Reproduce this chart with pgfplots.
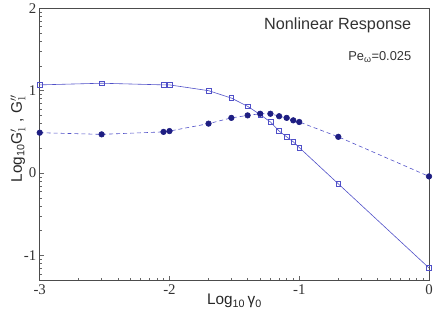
\documentclass[border=0pt]{standalone}
\usepackage{fontspec}
\setmainfont{Liberation Sans}
\newfontfamily\tickfont{Liberation Serif}
\usepackage{pgfplots}
\pgfplotsset{compat=1.18}
\usetikzlibrary{calc}

\definecolor{lineblue}{RGB}{80,80,200}
\definecolor{dotblue}{RGB}{30,30,130}

% G' (storage) and G'' (loss), log10 values
\pgfplotstableread{
x      gp     gpp
-3.000 1.07   0.49
-2.523 1.09   0.47
-2.046 1.07   0.50
-2.000 1.07   0.51
-1.699 1.00   0.60
-1.523 0.91   0.67
-1.398 0.81   0.70
-1.301 0.71   0.72
-1.222 0.62   0.72
-1.155 0.51   0.69
-1.097 0.44   0.67
-1.046 0.38   0.64
-1.000 0.31   0.62
-0.699 -0.13  0.44
 0.000 -1.15  -0.04
}\data

\begin{document}
\begin{tikzpicture}
\begin{axis}[
    name=ax,
    scale only axis,
    width=392bp, height=274bp,
    xmin=-3, xmax=0,
    ymin=-1.3, ymax=2,
    xtick={-3,-2,-1,0},
    ytick={-1,0,1,2},
    minor xtick={-2.69897,-2.52288,-2.39794,-2.30103,-2.22185,-2.15490,-2.09691,-2.04576,
                 -1.69897,-1.52288,-1.39794,-1.30103,-1.22185,-1.15490,-1.09691,-1.04576,
                 -0.69897,-0.52288,-0.39794,-0.30103,-0.22185,-0.15490,-0.09691,-0.04576},
    minor ytick={-1.22185,-1.15490,-1.09691,-1.04576,
                 -0.69897,-0.52288,-0.39794,-0.30103,-0.22185,-0.15490,-0.09691,-0.04576,
                 0.30103,0.47712,0.60206,0.69897,0.77815,0.84510,0.90309,0.95424,
                 1.30103,1.47712,1.60206,1.69897,1.77815,1.84510,1.90309,1.95424},
    xtick pos=bottom, ytick pos=left,
    tick align=inside,
    major tick length=4bp, minor tick length=2.5bp,
    tick style={black!60, line width=0.6pt},
    axis line style={black!70, line width=0.8pt},
    /pgf/number format/assume math mode=true,
    ticklabel style={font=\tickfont\fontsize{15}{15}\selectfont, text=black!80},
    xticklabel style={yshift=-1bp},
    label style={font=\fontsize{15.5}{16}\selectfont, text=black!85},
    xlabel={Log\textsubscript{10}\,γ\textsubscript{0}},
    ylabel={Log\textsubscript{10}G$_{1}^{\prime}$ , G$_{1}^{\prime\prime}$},
    xlabel style={at={(axis description cs:0.5,-0.077)}, anchor=center},
    ylabel style={at={(axis description cs:-0.056,0.52)}, anchor=center},
    clip=false,
]
\addplot[lineblue, line width=0.6pt, mark=square, mark size=2.4bp,
         mark options={solid, draw=lineblue, fill=white}]
    table[x=x, y=gp] {\data};
\addplot[lineblue, line width=0.6pt, dash pattern=on 4bp off 3bp, mark=*, mark size=2.8bp,
         mark options={solid, draw=dotblue, fill=dotblue}]
    table[x=x, y=gpp] {\data};
\node[anchor=east, font=\fontsize{16.4}{17}\selectfont, text=black!80]
    at (axis cs:-0.11,1.79) {Nonlinear Response};
\node[anchor=east, font=\fontsize{13}{14}\selectfont, text=black!80]
    at (axis cs:-0.11,1.41) {Pe\textsubscript{ω}=0.025};
\end{axis}
\path[use as bounding box] ($(ax.south west)+(-40bp,-39bp)$) rectangle ($(ax.north east)+(4bp,7bp)$);
\end{tikzpicture}
\end{document}
